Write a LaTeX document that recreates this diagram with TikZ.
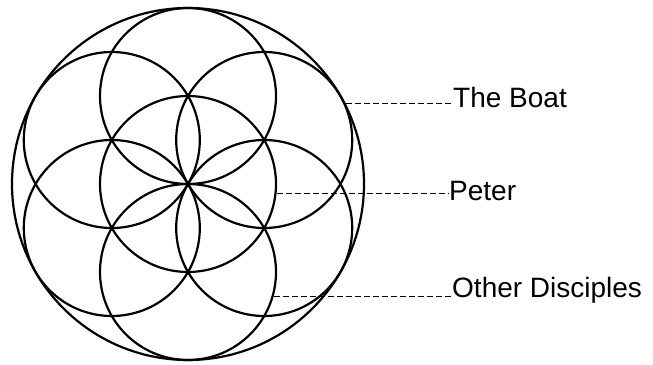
\documentclass[tikz,border=0pt]{standalone}
\usepackage{fontspec}
\setmainfont{Liberation Sans}
\usetikzlibrary{calc}
\begin{document}
\begin{tikzpicture}[x=1pt,y=-1pt,
  ring/.style={draw=black,circle,inner sep=0pt,line width=2.2pt,minimum size=#1},
  lbl/.style={anchor=base west,inner sep=0pt,font=\fontsize{28}{30}\selectfont},
  leader/.style={draw=black,line width=1.4pt,dash pattern=on 6.5pt off 2.5pt}]
\useasboundingbox (0,0) rectangle (653,364);
\fill[white] (0,0) rectangle (653,364);
% big circle
\node[ring=352pt] (big) at (188,184) {};
% central circle
\node[ring=176pt] (c0) at (188,184) {};
% six surrounding circles
\foreach \a/\n in {30/c30,90/c90,150/c150,210/c210,270/c270,330/c330}{
  \node[ring=176pt] (\n) at ({188+88*cos(\a)},{184-88*sin(\a)}) {};
}
% labels
\node[lbl] (boat) at (453,107) {The Boat};
\node[lbl] (peter) at (449,200) {Peter};
\node[lbl] (other) at (452,297) {Other Disciples};
% leaders
\draw[leader] (big.27) -- (big.27 -| boat.west);
\draw[leader] (c0.-6) -- (c0.-6 -| peter.west);
\draw[leader] (c270.-16) -- (c270.-16 -| other.west);
\end{tikzpicture}
\end{document}
